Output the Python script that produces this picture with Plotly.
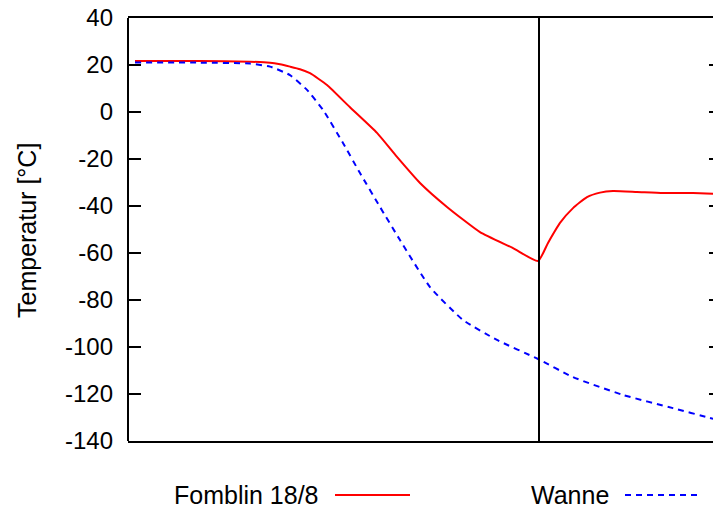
import plotly.graph_objects as go

# time axis (arbitrary units, no tick labels shown in the original)
t_fomblin = [7, 72, 122, 142, 152, 162, 172, 182, 199, 222, 249, 269, 292, 319, 352,
             385, 410, 420, 432, 445, 459, 472, 485, 509, 535, 565, 594]
fomblin = [21.7, 21.7, 21.4, 21.0, 20.3, 19.3, 18.2, 16.5, 11.5, 2.0, -8.9, -19.1,
           -30.2, -40.4, -51.1, -57.9, -63.4, -55.7, -47.2, -40.9, -36.2, -34.3,
           -33.6, -34.0, -34.5, -34.5, -34.9]

t_wanne = [7, 72, 122, 142, 162, 179, 195, 215, 232, 252, 272, 302, 335, 369, 410,
           445, 495, 545, 582, 594]
wanne = [21.1, 21.0, 20.6, 19.3, 15.7, 9.4, 0.9, -13.2, -26.0, -40.4, -54.5, -74.5,
         -88.5, -97.0, -105.1, -112.8, -120.4, -126.0, -130.2, -131.5]

t_switch = 411
y_ticks = [40, 20, 0, -20, -40, -60, -80, -100, -120, -140]
y_title = "Temperatur [°C]"
names = ["Fomblin 18/8", "Wanne"]

FONT = "Liberation Sans, Arial, Helvetica, sans-serif"

fig = go.Figure()
fig.add_trace(go.Scatter(x=t_fomblin, y=fomblin, mode="lines", name=names[0],
                         line=dict(color="#ff0000", width=2, shape="spline", smoothing=0.5)))
fig.add_trace(go.Scatter(x=t_wanne, y=wanne, mode="lines", name=names[1],
                         line=dict(color="#0000ff", width=2, dash="6px,5px", shape="spline", smoothing=0.5)))
# invisible trace to anchor the mirrored right-hand axis
fig.add_trace(go.Scatter(x=[t_switch], y=[y_ticks[0]], yaxis="y2", mode="markers",
                         marker=dict(opacity=0), hoverinfo="skip", showlegend=False))

fig.add_shape(type="line", xref="x", yref="paper", x0=t_switch, x1=t_switch, y0=0, y1=1,
              line=dict(color="black", width=2))
# left border
fig.add_shape(type="line", xref="paper", yref="paper", x0=0, x1=0, y0=0, y1=1,
              line=dict(color="black", width=2))

# legend (gnuplot style: text then sample)
ly = -54 / 423
fig.add_annotation(xref="paper", yref="paper", x=(321 - 128) / 594, y=ly,
                   xanchor="right", yanchor="middle", text=names[0], showarrow=False,
                   font=dict(family=FONT, size=25, color="black"))
fig.add_shape(type="line", xref="paper", yref="paper", x0=(335 - 128) / 594, x1=(410 - 128) / 594,
              y0=ly, y1=ly, line=dict(color="#ff0000", width=2))
fig.add_annotation(xref="paper", yref="paper", x=(611 - 128) / 594, y=ly,
                   xanchor="right", yanchor="middle", text=names[1], showarrow=False,
                   font=dict(family=FONT, size=25, color="black"))
fig.add_shape(type="line", xref="paper", yref="paper", x0=(625 - 128) / 594, x1=(697 - 128) / 594,
              y0=ly, y1=ly, line=dict(color="#0000ff", width=2, dash="6px,5px"))

fig.add_annotation(xref="paper", yref="paper", x=(27 - 128) / 594, y=(441 - 231) / 423, textangle=-90,
                   xanchor="center", yanchor="middle", text=y_title, showarrow=False,
                   font=dict(family=FONT, size=25, color="black"))

fig.update_layout(
    width=722, height=509, autosize=False,
    margin=dict(l=128, r=0, t=18, b=68),
    paper_bgcolor="white", plot_bgcolor="white",
    showlegend=False,
    font=dict(family=FONT, size=24, color="black"),
    yaxis2=dict(overlaying="y", side="right", range=[-140, 40], tickvals=y_ticks,
                showticklabels=False, showgrid=False, zeroline=False, showline=False,
                ticks="inside", ticklen=13, tickwidth=2, tickcolor="black"),
)
fig.update_xaxes(range=[0, 594], showgrid=False, zeroline=False, showticklabels=False,
                 ticks="", showline=True, linecolor="black", linewidth=2, mirror=True)
fig.update_yaxes(selector=dict(overlaying=None), range=[-140, 40], tickvals=y_ticks,
                 ticktext=[str(v) for v in y_ticks],
                 showgrid=False, zeroline=False, ticks="inside", ticklen=13, tickwidth=2,
                 tickcolor="black", showline=False,
                 ticklabelstandoff=14, tickfont=dict(family=FONT, size=24, color="black"))

fig.write_html(
    "out.html",
    config={"displayModeBar": False},
    post_script=(
        "document.documentElement.style.overflow='hidden';"
        "document.body.style.margin='0';"
        "document.body.style.overflow='hidden';"
    ),
)
